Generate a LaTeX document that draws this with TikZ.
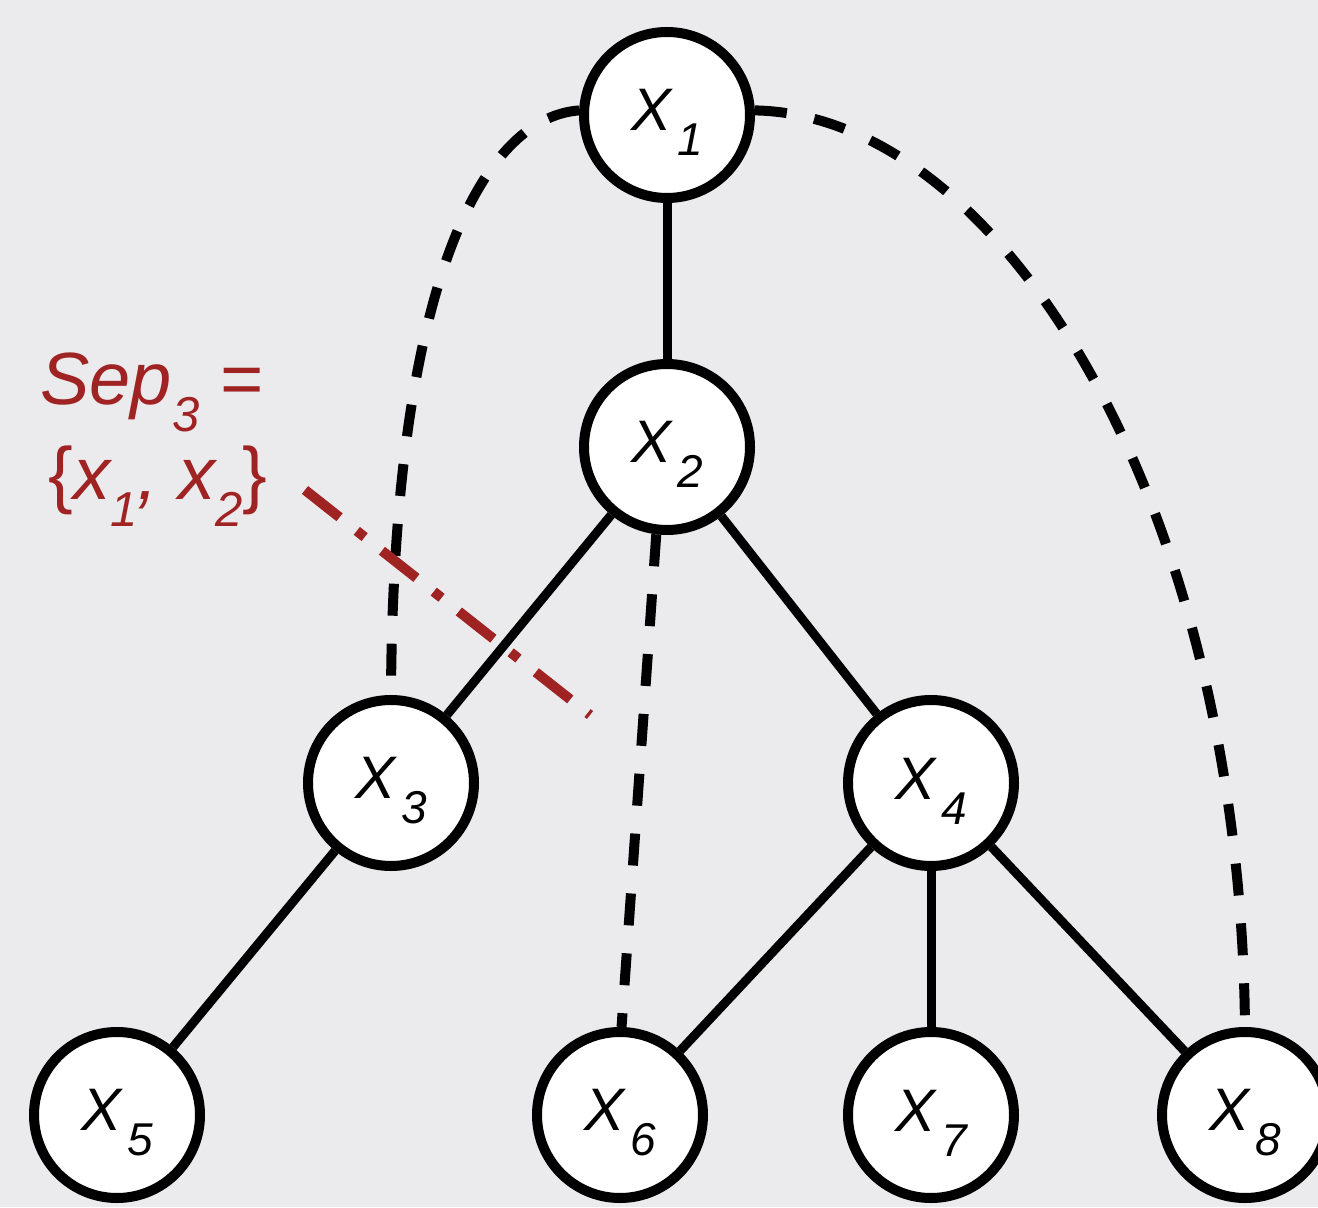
\documentclass[tikz,border=0pt]{standalone}
\usepackage{fontspec}
\setmainfont{Liberation Sans}
\definecolor{bgcol}{RGB}{235,235,238}
\definecolor{sepred}{RGB}{160,35,35}
\newcommand{\xlab}[1]{{\fontsize{30}{30}\selectfont\itshape\rule{0pt}{28.5pt}X\hspace{3pt}\raisebox{-12.5pt}{\fontsize{23}{23}\selectfont #1}}}
\newcommand{\subr}[1]{\raisebox{-13.5pt}{\fontsize{24.5}{24.5}\selectfont #1}}
\begin{document}
\begin{tikzpicture}[x=0.5pt,y=0.5pt,
  var/.style={circle,draw=black,line width=5pt,fill=white,minimum size=83pt,inner sep=0pt},
  tree/.style={line width=4.5pt},
  link/.style={line width=5pt,dash pattern=on 16pt off 14pt},
  sepline/.style={line width=5pt,draw=sepred,dash pattern=on 22pt off 11pt on 5pt off 11pt}]
\fill[bgcol] (0,0) rectangle (1318,1207);
\useasboundingbox (0,0) rectangle (1318,1207);
% nodes
\node[var] (x1) at (667,1092) {\xlab{1}};
\node[var] (x2) at (667,760) {\xlab{2}};
\node[var] (x3) at (391,424) {\xlab{3}};
\node[var] (x4) at (931,424) {\xlab{4}};
\node[var] (x5) at (117,92) {\xlab{5}};
\node[var] (x6) at (620,92) {\xlab{6}};
\node[var] (x7) at (931,92) {\xlab{7}};
\node[var] (x8) at (1245,92) {\xlab{8}};
% tree edges
\draw[tree] (x1) -- (x2);
\draw[tree] (x2) -- (x3);
\draw[tree] (x2) -- (x4);
\draw[tree] (x3) -- (x5);
\draw[tree] (x4) -- (x6);
\draw[tree] (x4) -- (x7);
\draw[tree] (x4) -- (x8);
% dashed links
\draw[link] (x1.177) .. controls (480,1089) and (393,917) .. (x3.north);
\draw[link] (x1.3) .. controls (1000,1092) and (1240,707) .. (x8.north);
\draw[link] (x2.263) -- (x6.89);
% separator label
\node[anchor=base west,inner sep=0pt,text=sepred] (sep) at (40,802)
  {\fontsize{37}{47.5}\selectfont\itshape
   \begin{tabular}[t]{@{}l@{}}
   Sep\subr{3} =\\
   \hspace{4pt}{\upshape\{}x\subr{1}, x\subr{2}{\upshape\}}
   \end{tabular}};
\coordinate (sepa) at (305,717);
\coordinate (sepb) at (590,492);
\draw[sepline] (sepa) -- (sepb);
\end{tikzpicture}
\end{document}
